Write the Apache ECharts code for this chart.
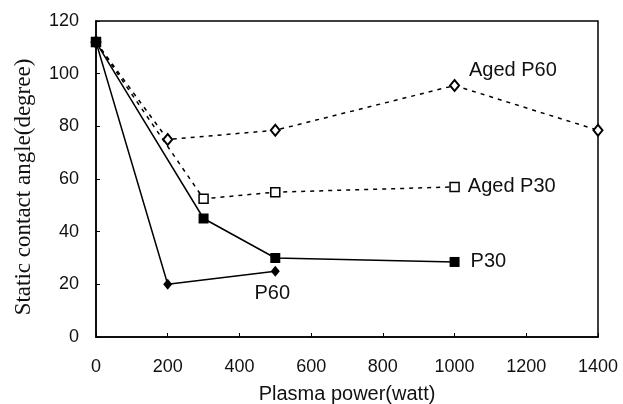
<!DOCTYPE html>
<html>
<head>
<meta charset="utf-8">
<script src="https://cdn.jsdelivr.net/npm/echarts@6/dist/echarts.min.js"></script>
<style>
  html, body { margin: 0; padding: 0; background: #fff; }
  #chart { width: 623px; height: 404px; }
</style>
</head>
<body>
<div id="chart"></div>
<script>
// plasma power (watt) and static contact angle (degree) per series
var p60Power = [0, 200, 500];
var p60Angle = [112, 20, 25];
var p30Power = [0, 300, 500, 1000];
var p30Angle = [112, 45, 30, 28.5];
var agedP30Power = [0, 300, 500, 1000];
var agedP30Angle = [112, 52.5, 55, 57];
var agedP60Power = [0, 200, 500, 1000, 1400];
var agedP60Angle = [112, 75, 78.5, 95.5, 78.5];

var xTicks = [0, 200, 400, 600, 800, 1000, 1200, 1400];
var yTicks = [0, 20, 40, 60, 80, 100, 120];

var sansFont = 'Liberation Sans';
var serifFont = 'Liberation Serif';

function pairs(xs, ys) {
  return xs.map(function(x, i) { return [x, ys[i]]; });
}

// label sits on one point only
function withLabel(data, idx, label) {
  return data.map(function(d, i) {
    if (i !== idx) return d;
    return { value: d, label: label };
  });
}

function lineLabel(text, pos, offset) {
  return {
    show: true,
    formatter: text,
    position: pos,
    offset: offset,
    color: '#111',
    fontFamily: sansFont,
    fontSize: 20
  };
}

var chart = echarts.init(document.getElementById('chart'));

var option = {
  animation: false,
  backgroundColor: '#fff',
  grid: {
    left: 96, right: 25, top: 21, bottom: 67,
    outerBoundsMode: 'none',
    show: true,
    borderColor: '#000',
    borderWidth: 1.5
  },
  xAxis: {
    type: 'value',
    min: xTicks[0],
    max: xTicks[xTicks.length - 1],
    interval: 200,
    name: 'Plasma power(watt)',
    nameLocation: 'middle',
    nameGap: 47,
    nameTextStyle: { fontFamily: sansFont, fontSize: 20, color: '#111' },
    axisLine: { lineStyle: { color: '#000', width: 1.5 } },
    axisTick: { inside: true, length: 4, lineStyle: { color: '#000' } },
    axisLabel: {
      margin: 21, fontFamily: sansFont, fontSize: 18, color: '#111',
      formatter: function(v) { return String(v); }
    },
    splitLine: { show: false }
  },
  yAxis: {
    type: 'value',
    min: yTicks[0],
    max: yTicks[yTicks.length - 1],
    interval: 20,
    name: 'Static contact angle(degree)',
    nameLocation: 'middle',
    nameGap: 61,
    nameTextStyle: {
      fontFamily: serifFont, fontSize: 23, color: '#111',
      padding: [0, 16, 0, 0]
    },
    axisLine: { show: true, lineStyle: { color: '#000', width: 1.5 } },
    axisTick: { show: true, inside: true, length: 4, lineStyle: { color: '#000' } },
    axisLabel: { margin: 17, fontFamily: sansFont, fontSize: 18, color: '#111' },
    splitLine: { show: false }
  },
  series: [
    {
      name: 'Aged P60',
      type: 'line',
      data: withLabel(pairs(agedP60Power, agedP60Angle), 3,
        lineLabel('Aged P60', 'right', [4, -15])),
      symbol: 'diamond',
      symbolSize: [9, 11],
      itemStyle: { color: '#fff', borderColor: '#000', borderWidth: 2 },
      lineStyle: { color: '#000', width: 1.5, type: [4, 5] },
      z: 2
    },
    {
      name: 'Aged P30',
      type: 'line',
      data: withLabel(pairs(agedP30Power, agedP30Angle), 3,
        lineLabel('Aged P30', 'right', [3, 0])),
      symbol: 'rect',
      symbolSize: 9,
      itemStyle: { color: '#fff', borderColor: '#000', borderWidth: 1.5 },
      lineStyle: { color: '#000', width: 1.5, type: [4, 5] },
      z: 2
    },
    {
      name: 'P30',
      type: 'line',
      data: withLabel(pairs(p30Power, p30Angle), 3,
        lineLabel('P30', 'right', [6, 0])),
      symbol: 'rect',
      symbolSize: 10,
      itemStyle: { color: '#000' },
      lineStyle: { color: '#000', width: 1.5 },
      z: 3
    },
    {
      name: 'P60',
      type: 'line',
      data: withLabel(pairs(p60Power, p60Angle), 2,
        lineLabel('P60', 'bottom', [-3, 2])),
      symbol: 'diamond',
      symbolSize: [9, 11],
      itemStyle: { color: '#000' },
      lineStyle: { color: '#000', width: 1.5 },
      z: 3
    }
  ]
};

chart.setOption(option);
</script>
</body>
</html>
